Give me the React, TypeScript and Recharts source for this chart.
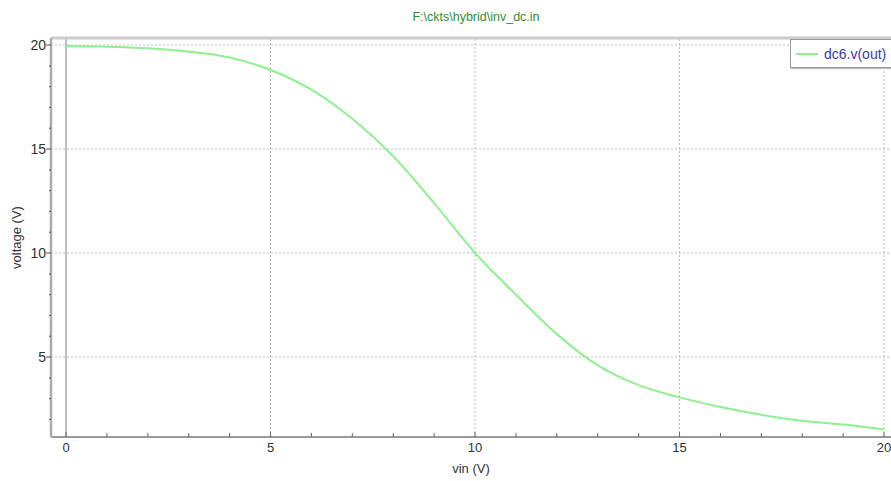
import React from "react";
import {
  LineChart,
  Line,
  XAxis,
  YAxis,
  ReferenceLine,
} from "recharts";

const vin = [0, 1, 2, 3, 4, 5, 6, 7, 8, 9, 10, 11, 12, 13, 14, 15, 16, 17, 18, 19, 20];
const vout = [
  19.95, 19.92, 19.84, 19.68, 19.4, 18.8, 17.85, 16.45, 14.65, 12.4, 10.0, 8.0, 6.1,
  4.6, 3.65, 3.06, 2.6, 2.22, 1.93, 1.75, 1.52,
];
const xTicks = [0, 1, 2, 3, 4, 5, 6, 7, 8, 9, 10, 11, 12, 13, 14, 15, 16, 17, 18, 19, 20];
const yTicks = [2, 3, 4, 5, 6, 7, 8, 9, 10, 11, 12, 13, 14, 15, 16, 17, 18, 19, 20];
const majorX = [5, 10, 15, 20];
const majorY = [5, 10, 15, 20];

const data = vin.map((v, i) => ({ vin: v, out: vout[i] }));

const FONT = "'Liberation Sans', Arial, sans-serif";
const GREEN = "#8ef08e";

function XTick(props: any) {
  const { x, y, payload } = props;
  const major = payload.value % 5 === 0;
  return (
    <g>
      <line x1={x} x2={x} y1={y} y2={y - (major ? 5 : 4)} stroke="#666" strokeWidth={1} />
      {major && (
        <text x={x} y={y + 15} textAnchor="middle" fontSize={13} fill="#333" fontFamily={FONT}>
          {payload.value}
        </text>
      )}
    </g>
  );
}

function YTick(props: any) {
  const { x, y, payload } = props;
  const major = payload.value % 5 === 0;
  return (
    <g>
      <line x1={x} x2={x - (major ? 5 : 2)} y1={y} y2={y} stroke="#555" strokeWidth={1} />
      {major && (
        <text x={x - 5} y={y + 5} textAnchor="end" fontSize={14} fill="#333" fontFamily={FONT}>
          {payload.value}
        </text>
      )}
    </g>
  );
}

export default function App() {
  return (
    <div style={{ position: "absolute", left: 0, top: 0, width: 891, height: 481, background: "#fff", overflow: "hidden" }}>
      <div
        style={{
          position: "absolute",
          top: 10,
          left: 0,
          width: 952,
          textAlign: "center",
          fontFamily: FONT,
          fontSize: 12.5,
          color: "#2f8f2f",
        }}
      >
        F:\ckts\hybrid\inv_dc.in
      </div>
      <LineChart
        width={891}
        height={481}
        data={data}
        margin={{ top: 38, right: 0, bottom: 0, left: 0 }}
      >
        <XAxis
          dataKey="vin"
          type="number"
          domain={[-0.367, 20.17]}
          allowDataOverflow
          ticks={xTicks}
          interval={0}
          height={44}
          tickSize={0}
          tickMargin={0}
          tickLine={false}
          tick={<XTick />}
          axisLine={{ stroke: "#777", strokeWidth: 1.5 }}
          label={{ value: "vin (V)", position: "insideBottom", offset: 8, fontSize: 13, fill: "#333", fontFamily: FONT }}
        />
        <YAxis
          type="number"
          domain={[1.154, 20.337]}
          allowDataOverflow
          ticks={yTicks}
          interval={0}
          width={51}
          tickSize={0}
          tickMargin={0}
          tickLine={false}
          tick={<YTick />}
          axisLine={{ stroke: "#aaa", strokeWidth: 2.5 }}
          label={{
            value: "voltage (V)",
            angle: -90,
            position: "insideLeft",
            offset: 0,
            dx: 16,
            fontSize: 13,
            fill: "#333",
            fontFamily: FONT,
            style: { textAnchor: "middle" },
          }}
        />
        {majorX.map((v) => (
          <ReferenceLine key={`gx${v}`} x={v} stroke="#bbb" strokeDasharray="2 2" />
        ))}
        {majorY.map((v) => (
          <ReferenceLine key={`gy${v}`} y={v} stroke="#bbb" strokeDasharray="2 2" />
        ))}
        <ReferenceLine x={0} stroke="#aaa" strokeWidth={1.5} />
        <ReferenceLine y={20.337} stroke="#ccc" strokeWidth={3} />
        <Line
          type="monotone"
          dataKey="out"
          stroke={GREEN}
          strokeWidth={2}
          dot={false}
          isAnimationActive={false}
          name="dc6.v(out)"
        />
      </LineChart>
      <div
        style={{
          position: "absolute",
          left: 790,
          top: 39,
          border: "1px solid #999",
          background: "#fff",
          width: 110,
          height: 27,
          display: "flex",
          alignItems: "center",
          fontFamily: FONT,
          fontSize: 14,
          color: "#3a3aa8",
          boxShadow: "1px 1px 1px #bbb",
        }}
      >
        <span style={{ display: "inline-block", width: 22, height: 2, background: GREEN, margin: "0 6px 0 5px" }} />
        dc6.v(out)
      </div>
    </div>
  );
}
